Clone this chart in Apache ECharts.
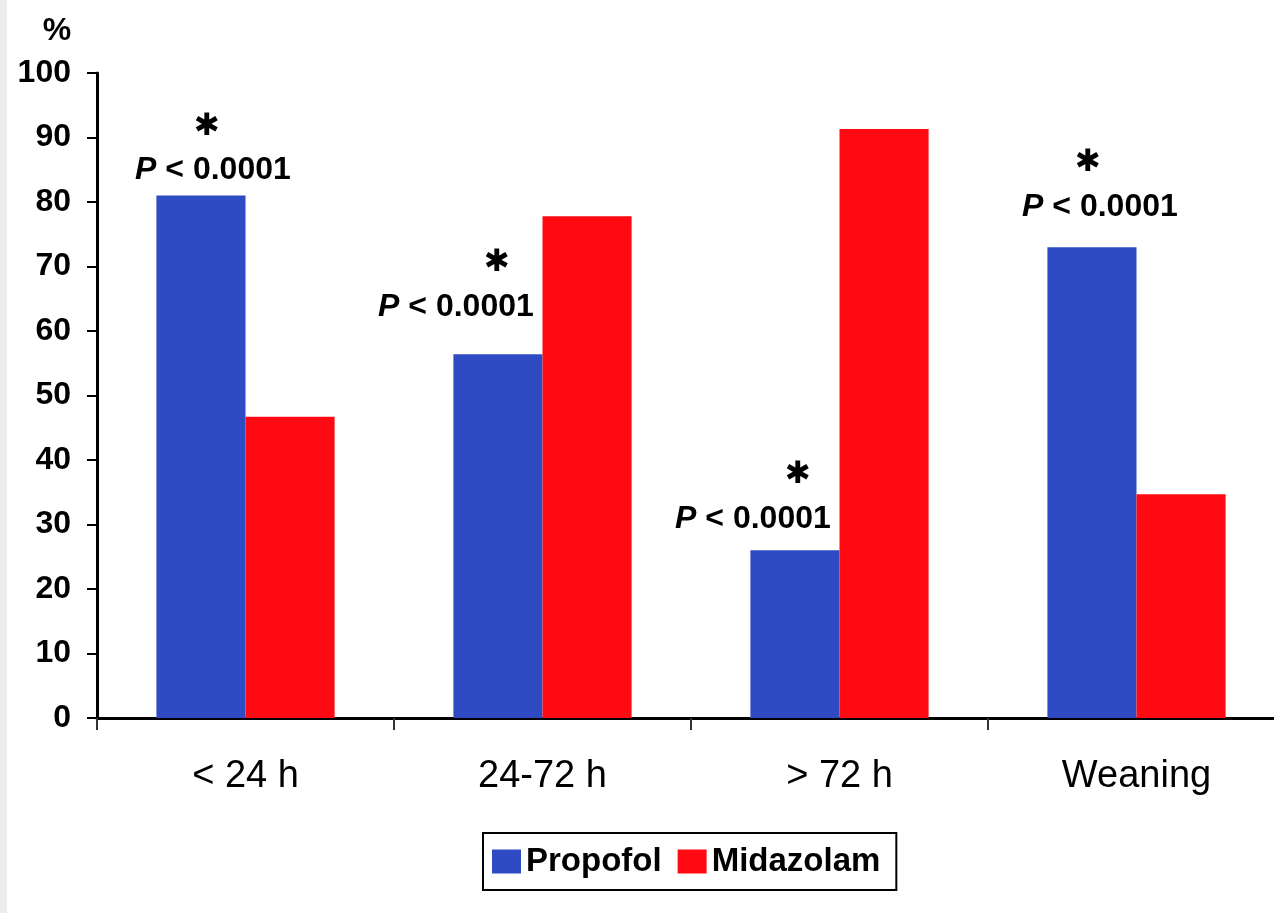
<!DOCTYPE html>
<html>
<head>
<meta charset="utf-8">
<script src="https://cdn.jsdelivr.net/npm/echarts@6/dist/echarts.min.js"></script>
<style>
  html, body { margin: 0; padding: 0; background: #fff; }
  #chart { width: 1274px; height: 913px; }
  #strip { position: absolute; left: 0; top: 0; width: 7px; height: 913px; background: #ebecee; z-index: 5; }
</style>
</head>
<body>
<div id="strip"></div>
<div id="chart"></div>
<script>
// data
var categories = ['< 24 h', '24-72 h', '> 72 h', 'Weaning'];
var propofol = [81, 56.4, 26, 73];
var midazolam = [46.7, 77.8, 91.3, 34.7];
var pText = ['P < 0.0001', 'P < 0.0001', 'P < 0.0001', 'P < 0.0001'];

// where each "* P < 0.0001" note sits relative to its Propofol bar
var noteLayout = [
    { distance: 7, dx: 12, star: [0, 12, 0, 0] },
    { distance: 29, dx: -42, star: [0, 0, 0, 82] },
    { distance: 13, dx: -42, star: [0, 0, 0, 90] },
    { distance: 22, dx: 8, star: [0, 24, 0, 0] }
];

var font = '"Liberation Sans", Arial, sans-serif';

var propofolData = propofol.map(function (v, i) {
    var lay = noteLayout[i];
    var parts = pText[i].split(' ');
    return {
        value: v,
        label: {
            show: true,
            position: 'top',
            distance: lay.distance,
            offset: [lay.dx, 0],
            formatter: '{s|\u2731}\n{p|' + parts[0] + '}{t| ' + parts.slice(1).join(' ') + '}',
            rich: {
                s: { fontSize: 31, lineHeight: 52, color: '#000', fontFamily: '"DejaVu Sans"', padding: lay.star },
                p: { fontSize: 32, fontWeight: 'bold', fontStyle: 'italic', lineHeight: 36, color: '#000', fontFamily: font },
                t: { fontSize: 32, fontWeight: 'bold', lineHeight: 36, color: '#000', fontFamily: font }
            }
        }
    };
});

var myChart = echarts.init(document.getElementById('chart'));
var option = {
    animation: false,
    backgroundColor: '#fff',
    grid: { left: 97, width: 1188, top: 73, bottom: 195, outerBoundsMode: 'none' },
    legend: {
        data: ['Propofol', 'Midazolam'],
        left: 483,
        top: 833,
        orient: 'horizontal',
        borderColor: '#000',
        borderWidth: 2,
        padding: [12, 16, 12, 9],
        itemWidth: 29,
        itemHeight: 24,
        itemGap: 16,
        icon: 'rect',
        textStyle: { fontSize: 33, fontWeight: 'bold', color: '#000', fontFamily: font }
    },
    xAxis: {
        type: 'category',
        data: categories,
        axisLine: { lineStyle: { color: '#000', width: 3 } },
        axisTick: { show: true, length: 12, lineStyle: { color: '#333', width: 2 } },
        axisLabel: { fontSize: 38, color: '#000', margin: 40, fontFamily: font }
    },
    yAxis: {
        type: 'value',
        min: 0,
        max: 100,
        interval: 10,
        name: '%',
        nameLocation: 'end',
        nameGap: 26,
        nameTextStyle: { fontSize: 32, fontWeight: 'bold', color: '#000', fontFamily: font, padding: [0, 80, 0, 0] },
        axisLine: { show: true, lineStyle: { color: '#000', width: 3 } },
        axisTick: { show: true, length: 10, lineStyle: { color: '#000', width: 2 } },
        axisLabel: { fontSize: 32, fontWeight: 'bold', color: '#000', margin: 26, fontFamily: font },
        splitLine: { show: false }
    },
    series: [
        {
            name: 'Propofol',
            type: 'bar',
            barGap: 0,
            barCategoryGap: '40%',
            itemStyle: { color: '#2f4bc3' },
            data: propofolData
        },
        {
            name: 'Midazolam',
            type: 'bar',
            itemStyle: { color: '#ff0a12' },
            data: midazolam
        }
    ]
};
myChart.setOption(option);
</script>
</body>
</html>
